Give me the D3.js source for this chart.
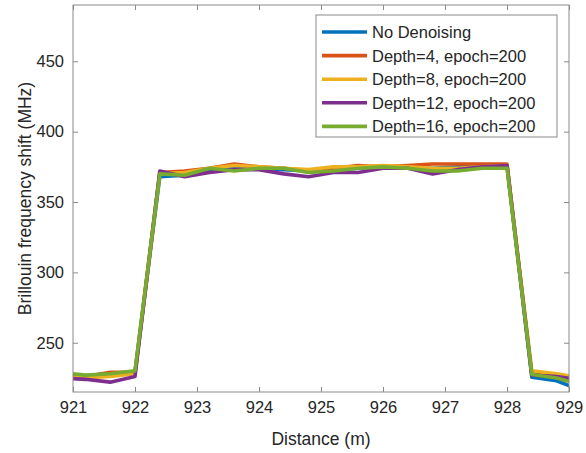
<!DOCTYPE html>
<html>
<head>
<meta charset="utf-8">
<script src="https://cdn.jsdelivr.net/npm/d3@7"></script>
<style>
  body { margin: 0; background: #fff; }
  text { font-family: "Liberation Sans", Arial, sans-serif; fill: #262626; }
</style>
</head>
<body>
<div id="chart"></div>
<script>
var distance = [920.8, 921.2, 921.6, 922.0, 922.4, 922.8, 923.2, 923.6, 924.0, 924.4, 924.8,
                925.2, 925.6, 926.0, 926.4, 926.8, 927.2, 927.6, 928.0, 928.4, 928.8, 929.2];

var noDenoising = [227, 226, 227, 229, 368, 369, 373, 375, 374, 373, 372,
                   373, 374, 375, 374, 374, 375, 375, 376, 225.5, 223, 216];
var depth4  = [227, 226, 229, 229, 371, 372, 374, 377, 375, 374, 372,
               374, 376, 375, 376, 377, 377, 377, 377, 228, 227, 225];
var depth8  = [226, 225, 226, 228, 370, 371, 374, 376, 375, 374, 373,
               375, 375, 376, 375, 374, 374, 375, 376, 230, 228, 225];
var depth12 = [225, 224, 222, 226, 372, 368, 371, 373, 373, 370, 368,
               371, 371, 374, 374, 370, 373, 375, 376, 227, 226, 223.5];
var depth16 = [229, 227, 228, 230, 370, 369, 374, 372, 374, 374, 371,
               372, 374, 375, 374, 372, 372, 374, 374, 227.5, 225, 220];

var seriesNames = ['No Denoising', 'Depth=4, epoch=200', 'Depth=8, epoch=200',
                   'Depth=12, epoch=200', 'Depth=16, epoch=200'];
var seriesValues = [noDenoising, depth4, depth8, depth12, depth16];
var colors = ['#0072BD', '#D95319', '#EDB120', '#7E2F8E', '#77AC30'];

var xTicks = [921, 922, 923, 924, 925, 926, 927, 928, 929];
var yTicks = [250, 300, 350, 400, 450];

var width = 586;
var height = 453;
var margin = {left : 73, right : 17, top : 5, bottom : 61};
var axisColor = '#8a8a8a';

var svg = d3.select('#chart')
            .append('svg')
            .attr('width', width)
            .attr('height', height);

var x = d3.scaleLinear()
          .domain([921, 929])
          .range([margin.left, width - margin.right]);

var y = d3.scaleLinear()
          .domain([215, 490])
          .range([height - margin.bottom, margin.top]);

svg.append('clipPath')
   .attr('id', 'plot-clip')
   .append('rect')
   .attr('x', margin.left)
   .attr('y', margin.top)
   .attr('width', width - margin.left - margin.right)
   .attr('height', height - margin.top - margin.bottom);

// axes (ticks point inward, mirrored on top and right)
svg.append('g')
   .attr('transform', 'translate(0,' + (height - margin.bottom) + ')')
   .call(d3.axisBottom(x).tickValues(xTicks).tickFormat(d3.format('d'))
           .tickSizeInner(-5).tickSizeOuter(0).tickPadding(9));

svg.append('g')
   .attr('transform', 'translate(' + margin.left + ',0)')
   .call(d3.axisLeft(y).tickValues(yTicks)
           .tickSizeInner(-5).tickSizeOuter(0).tickPadding(9));

svg.append('g')
   .attr('transform', 'translate(0,' + margin.top + ')')
   .call(d3.axisTop(x).tickValues(xTicks).tickFormat('').tickSizeInner(-5).tickSizeOuter(0));

svg.append('g')
   .attr('transform', 'translate(' + (width - margin.right) + ',0)')
   .call(d3.axisRight(y).tickValues(yTicks).tickFormat('').tickSizeInner(-5).tickSizeOuter(0));

svg.selectAll('.domain').remove();
svg.selectAll('.tick line').attr('stroke', axisColor);
svg.selectAll('.tick text').style('font-size', '16.5px').attr('fill', '#262626');

var line = d3.line()
             .x((d, i) => x(distance[i]))
             .y(d => y(d));

svg.append('g')
   .attr('clip-path', 'url(#plot-clip)')
   .selectAll('path')
   .data(seriesValues)
   .enter()
   .append('path')
   .attr('d', line)
   .attr('fill', 'none')
   .attr('stroke', (d, i) => colors[i])
   .attr('stroke-width', 3.6)
   .attr('stroke-linejoin', 'round');

svg.append('rect')
   .attr('x', margin.left)
   .attr('y', margin.top)
   .attr('width', width - margin.left - margin.right)
   .attr('height', height - margin.top - margin.bottom)
   .attr('fill', 'none')
   .attr('stroke', axisColor);

// axis labels
svg.append('text')
   .attr('x', (margin.left + width - margin.right) / 2)
   .attr('y', 445)
   .attr('text-anchor', 'middle')
   .style('font-size', '17.5px')
   .text('Distance (m)');

svg.append('text')
   .attr('transform', 'translate(31,' + ((margin.top + height - margin.bottom) / 2) + ') rotate(-90)')
   .attr('text-anchor', 'middle')
   .style('font-size', '17.5px')
   .text('Brillouin frequency shift (MHz)');

// legend
var legend = svg.append('g');

legend.append('rect')
      .attr('x', 316)
      .attr('y', 15)
      .attr('width', 241)
      .attr('height', 122)
      .attr('fill', '#fff')
      .attr('stroke', axisColor);

var rows = legend.selectAll('g.row')
                 .data(seriesNames)
                 .enter()
                 .append('g')
                 .attr('class', 'row')
                 .attr('transform', (d, i) => 'translate(0,' + (32 + i * 23.6) + ')');

rows.append('line')
    .attr('x1', 322)
    .attr('x2', 367)
    .attr('stroke', (d, i) => colors[i])
    .attr('stroke-width', 3.6);

rows.append('text')
    .attr('x', 372)
    .attr('dy', '0.36em')
    .style('font-size', '16.5px')
    .text(d => d);
</script>
</body>
</html>
